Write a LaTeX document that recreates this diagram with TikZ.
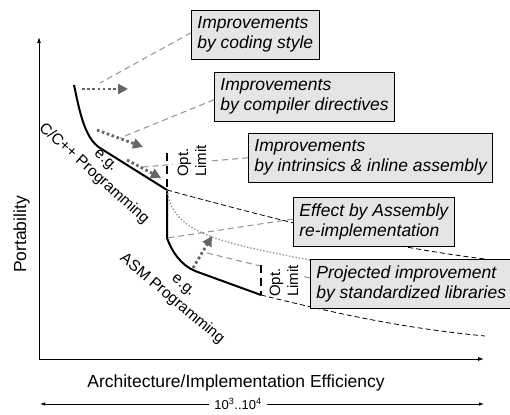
\documentclass[tikz,border=0pt]{standalone}
\usepackage{fontspec}
\setmainfont{Liberation Sans}
\usepackage{tikz}
\usetikzlibrary{arrows.meta}
\usetikzlibrary{calc}
\usetikzlibrary{positioning}

\pgfdeclarelayer{back}
\pgfsetlayers{back,main}

\tikzset{
  infobox/.style={draw=black, line width=0.8pt, fill=black!10, align=left,
    anchor=north west, inner xsep=6pt, inner ysep=6.5pt,
    font=\fontsize{17.5}{20}\selectfont\itshape},
  curve/.style={line width=2pt, line join=round},
  extrap/.style={line width=0.8pt, dash pattern=on 5pt off 3pt},
  optline/.style={line width=1.6pt, dash pattern=on 8pt off 5pt},
  optlabel/.style={fill=white, rotate=90, align=left, inner xsep=2pt,
    inner ysep=5pt, font=\fontsize{15}{18}\selectfont},
  hint/.style={black!40, line width=1.1pt, dash pattern=on 6pt off 4pt},
  projected/.style={black!45, line width=1.3pt, dash pattern=on 1.3pt off 2pt},
  effect/.style={black!60, line width=2.8pt, dash pattern=on 2.6pt off 2.6pt,
    -{Triangle[length=10pt,width=10pt]}},
  axis/.style={line width=0.9pt, -{Latex[length=6pt,width=4pt]}},
  lang/.style={align=center, font=\fontsize{15.5}{18}\selectfont},
}

\begin{document}
\begin{tikzpicture}[x=1pt, y=-1pt]
  \useasboundingbox (0,0) rectangle (510,414);

  % axes
  \coordinate (o) at (39,359);
  \coordinate (ytop) at (39,37);
  \coordinate (xend) at (484,359);
  \draw[axis] (o) -- (ytop);
  \draw[axis] (o) -- (xend);
  \node[rotate=90, anchor=base, font=\fontsize{17.5}{20}\selectfont] (port) at (26,234.5) {Portability};
  \node[anchor=base, font=\fontsize{17.5}{20}\selectfont] (eff) at (236,387) {Architecture/Implementation Efficiency};

  % range below the axis
  \coordinate (rl) at (40,404);
  \coordinate (rr) at (484,404);
  \node[fill=white, inner xsep=5pt, font=\fontsize{13}{15}\selectfont] (range) at (238,404) {10\textsuperscript{3}..10\textsuperscript{4}};
  \draw[line width=0.8pt, -{Latex[length=5pt,width=3.5pt]}] (range) -- (rl);
  \draw[line width=0.8pt, -{Latex[length=5pt,width=3.5pt]}] (range) -- (rr);

  % C/C++ and ASM curves
  \coordinate (cstart) at (74,85);
  \coordinate (cend) at (167,190);
  \coordinate (asmstart) at (167,238);
  \coordinate (asmend) at (261,295);
  \draw[curve] (cstart) .. controls (79,108) and (84,138) .. (100,148) -- (cend)
    -- (asmstart) .. controls (172,252) and (181,265) .. (195,271) -- (asmend);
  \node[lang, rotate=-42] (clang) at (99,168) {e.g.\\C/C++ Programming};
  \node[lang, rotate=-40] (asmlang) at (177,293) {e.g.\\ASM Programming};

  % optimisation limits
  \coordinate (copt) at (167,153);
  \coordinate (aopt) at (261,265);
  \draw[optline] (copt) -- (cend);
  \draw[optline] (aopt) -- (asmend);
  \node[optlabel] (climit) at (192,161) {Opt.\\Limit};
  \node[optlabel] (alimit) at (284,281) {Opt.\\Limit};

  % extrapolations
  \coordinate (cfar) at (485,259);
  \coordinate (afar) at (485,336);
  \coordinate (projend) at (310,260);
  \draw[extrap] (cend) .. controls (260,215) and (370,245) .. (cfar);
  \draw[extrap] (asmend) .. controls (330,312) and (400,328) .. (afar);
  \draw[projected] (cend) .. controls (172,232) and (215,242) .. (projend);

  % improvement steps
  \coordinate (e1s) at (82,89);  \coordinate (e1e) at (128,89);
  \coordinate (e2s) at (97,130); \coordinate (e2e) at (143,147);
  \coordinate (e3s) at (127,160); \coordinate (e3e) at (161,178);
  \coordinate (e4s) at (193,268); \coordinate (e4e) at (212,236);
  \draw[effect] (e1s) -- (e1e);
  \draw[effect] (e2s) -- (e2e);
  \draw[effect] (e3s) -- (e3e);
  \draw[effect] (e4s) -- (e4e);

  % annotations
  \node[infobox] (style) at (191,10) {Improvements\\by coding style};
  \node[infobox] (directives) at (214,72) {Improvements\\by compiler directives};
  \node[infobox] (intrinsics) at (248,133) {Improvements\\by intrinsics \& inline assembly};
  \node[infobox] (reimpl) at (293,197) {Effect by Assembly\\re-implementation};
  \node[infobox] (libs) at (310,259) {Projected improvement\\by standardized libraries};

  \coordinate (h1) at (100,83);
  \coordinate (h2) at (120,138);
  \coordinate (h3) at (143,167);
  \coordinate (h5) at (203,252);
  \begin{pgfonlayer}{back}
    \draw[hint] ([yshift=2pt]style.west) -- (h1);
    \draw[hint] ([yshift=-3pt]directives.west) -- (h2);
    \draw[hint] (intrinsics.west) -- (h3);
    \draw[hint] ([yshift=3pt]reimpl.west) -- (asmstart);
    \draw[hint] ([yshift=6pt]libs.west) -- (h5);
  \end{pgfonlayer}
\end{tikzpicture}
\end{document}
